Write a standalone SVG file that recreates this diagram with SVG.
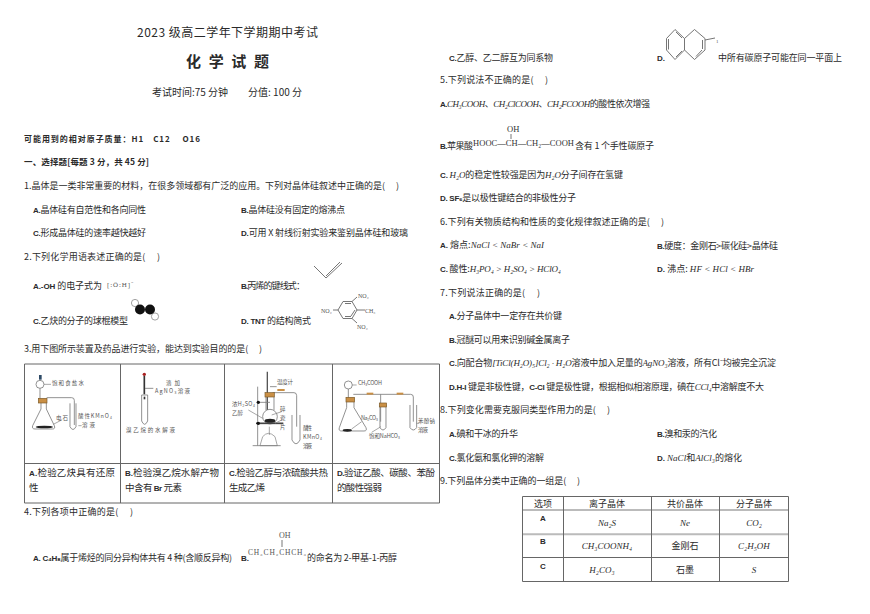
<svg xmlns="http://www.w3.org/2000/svg" width="870" height="614" viewBox="0 0 870 614">
<style>
text{font-family:"Noto Sans CJK SC","Liberation Sans",sans-serif;font-size:9px;fill:#2a2a2a}
.b{font-weight:bold}
.f{font-family:"Liberation Sans",sans-serif;font-weight:bold;font-size:8px}
.m{font-family:"Liberation Serif","Noto Sans CJK SC",serif;font-style:italic}
.s{font-family:"Liberation Serif","Noto Sans CJK SC",serif;fill:#555}
.l{font-size:5.5px;fill:#555}
.gl{fill:none;stroke:#7c7c7c;stroke-width:2.500}
.tb{stroke:#666;stroke-width:1;fill:none}
.tg{stroke:#bbb;stroke-width:2;fill:none}
.ln{stroke:#666;stroke-width:.9;fill:none}
.o{fill:#c98f45;stroke:#7a5a2a;stroke-width:2}
</style>
<rect width="870" height="614" fill="#fff"/>
<g id="header">
<text x="137" y="37" style="font-size:12px" textLength="181">2023 级高二学年下学期期中考试</text>
<text x="186" y="67" class="b" style="font-size:15px" textLength="83">化 学 试 题</text>
<text x="152" y="96" style="font-size:10px" textLength="150">考试时间:75 分钟　　分值: 100 分</text>
<text x="24" y="142" class="b" style="font-size:8px" textLength="176">可能用到的相对原子质量：H1　C12　 O16</text>
<text x="24" y="165" class="b" style="font-size:8.5px" textLength="125">一、选择题[每题 3 分，共 45 分]</text>
</g>
<g id="q1">
<text x="24" y="189" textLength="375">1.晶体是一类非常重要的材料，在很多领域都有广泛的应用。下列对晶体硅叙述中正确的是(　 )</text>
<text x="33" y="213" textLength="113"><tspan class="f">A.</tspan>晶体硅有自范性和各向同性</text>
<text x="241" y="213" textLength="104"><tspan class="f">B.</tspan>晶体硅没有固定的熔沸点</text>
<text x="33" y="236" textLength="113"><tspan class="f">C.</tspan>形成晶体硅的速率越快越好</text>
<text x="241" y="236" textLength="167"><tspan class="f">D.</tspan>可用 X 射线衍射实验来鉴别晶体硅和玻璃</text>
</g>
<g id="q2">
<text x="24" y="260" textLength="136">2.下列化学用语表述正确的是(　 )</text>
<text x="33" y="289" textLength="69"><tspan class="f">A.-OH</tspan> 的电子式为</text>
<text x="107" y="287" class="s" style="font-size:7px" textLength="26">[:Ö:H]⁻</text>
<text x="241" y="289" textLength="64"><tspan class="f">B.</tspan>丙烯的键线式：</text>
<path d="M314 266L326 278L342 263M326 276L340 262" class="ln"/>
<text x="33" y="324" textLength="95"><tspan class="f">C.</tspan>乙炔的分子的球棍模型</text>
<circle cx="135" cy="303" r="3.6" fill="#fff" stroke="#777" stroke-width=".7"/>
<circle cx="155" cy="316.500" r="3.6" fill="#fff" stroke="#777" stroke-width=".7"/>
<circle cx="140" cy="309.500" r="5" fill="#111"/>
<circle cx="150" cy="309.500" r="5" fill="#111"/>
<text x="241" y="324" textLength="70"><tspan class="f">D. TNT</tspan> 的结构简式</text>
<path d="M338 310L343 301.500L352 301.500L357 310L352 318.500L343 318.500ZM345 303.500L351 303.500M345 316.500L351 316.500M355 310L351 316M333 310H338M352 301.500L357 297M357 310H365M352 318.500L357 323" class="ln"/>
<text x="358" y="298" class="s" style="font-size:6px">NO₂</text>
<text x="321" y="313" class="s" style="font-size:6px">NO₂</text>
<text x="365" y="313" class="s" style="font-size:6px">CH₃</text>
<text x="357" y="329" class="s" style="font-size:6px">NO₂</text>
<text x="24" y="352" textLength="238">3.用下图所示装置及药品进行实验，能达到实验目的的是(　 )</text>
</g>
<g id="table-q3">
<path d="M24.500 364H439.500V503H24.500ZM24.500 463.500H439.500M120.500 364V503M224.500 364V503M332.500 364V503" class="tb"/>
<g id="apparatus-a" transform="translate(15 355) scale(.3333)">
<circle cx="75" cy="88" r="12" class="gl"/>
<rect x="72" y="60" width="8" height="14" fill="#2d4a66"/>
<path d="M75 100V140M78 140V162L53 212Q50 222 60 222H112Q122 222 118 212L94 162V140M95 128H170Q178 128 178 136V210M165 145V215Q174 232 183 215V145" class="gl"/>
<rect x="70" y="130" width="26" height="14" class="o"/>
<ellipse cx="88" cy="216" rx="26" ry="4" fill="#222"/>
<path d="M87 88H108M115 208L140 195M190 212H200" class="gl" style="stroke-width:2"/>
</g>
<g id="apparatus-b" transform="translate(15 355) scale(.3333)">
<path d="M388 62V118" stroke="#333" stroke-width="5" fill="none"/>
<circle cx="388" cy="58" r="5" fill="#a22"/>
<path d="M380 120V198Q389 218 398 198V120ZM390 100H415" class="gl"/>
<rect x="386" y="125" width="5" height="8" fill="#333"/>
</g>
<g id="apparatus-c" transform="translate(220 355) scale(.3333)">
<path d="M142 50V165" stroke="#555" stroke-width="4" fill="none"/>
<path d="M113 95V272M98 272H182M150 95H170M113 142H150" class="gl"/>
<circle cx="150" cy="185" r="22" class="gl"/>
<path d="M138 125V165M162 125V165M158 113H222Q230 113 230 122V215M216 180V255Q228 278 240 255V180" class="gl"/>
<rect x="135" y="113" width="28" height="13" class="o"/>
<rect x="172" y="102" width="22" height="6" fill="#c98f45"/>
<path d="M108 205H190" stroke="#444" stroke-width="5"/>
<ellipse cx="150" cy="197" rx="16" ry="6" fill="#222"/>
<path d="M120 272L128 245Q145 225 165 245L172 272ZM148 215V240" class="gl" style="stroke-width:2"/>
<circle cx="115" cy="142" r="5" fill="#111"/><circle cx="115" cy="205" r="5" fill="#111"/>
<path d="M155 180L185 170M165 205L185 195M85 165L128 190" class="gl" style="stroke-width:2"/>
</g>
<g id="apparatus-d" transform="translate(220 355) scale(.3333)">
<circle cx="385" cy="90" r="12" class="gl"/>
<path d="M385 102V135M380 140V158L358 218Q355 228 365 228H432Q442 228 438 218L402 158V140M400 118H572Q580 118 580 126V200M482 118V200M570 150V218Q580 232 590 218V150M480 150V218Q489 232 498 218V150" class="gl"/>
<rect x="378" y="127" width="26" height="14" class="o"/>
<rect x="478" y="144" width="22" height="12" class="o"/>
<rect x="440" y="113" width="20" height="6" fill="#c98f45"/>
<rect x="530" y="113" width="20" height="6" fill="#c98f45"/>
<ellipse cx="382" cy="226" rx="14" ry="4" fill="#222"/>
<path d="M397 90H410M395 222L425 200M483 215L455 232M590 205H598" class="gl" style="stroke-width:2"/>
</g>
<g id="apparatus-labels">
<text x="52" y="385" class="l" textLength="32">饱和食盐水</text>
<text x="56" y="420" class="l" textLength="12">电石</text>
<text x="78" y="418" class="l" textLength="34">酸性KMnO₄</text>
<text x="82" y="427" class="l" textLength="13">溶液</text>
<text x="166" y="385" class="l" textLength="14">滴加</text>
<text x="155" y="393" class="l" textLength="35">AgNO₃溶液</text>
<text x="126" y="432" class="l" textLength="49">溴乙烷的水解液</text>
<text x="277" y="384" class="l" textLength="16">温度计</text>
<text x="232" y="405.500" class="l" textLength="23">浓H₂SO₄</text>
<text x="232" y="414.500" class="l" textLength="11">乙醇</text>
<text x="280" y="411" class="l">碎</text>
<text x="280" y="420" class="l">瓷</text>
<text x="280" y="429" class="l">片</text>
<text x="303" y="430" class="l" textLength="9">酸性</text>
<text x="303" y="439" class="l" textLength="19">KMnO₄</text>
<text x="303" y="448" class="l" textLength="9">溶液</text>
<text x="358" y="385" class="l" textLength="24">CH₃COOH</text>
<text x="361" y="420" class="l" textLength="17">Na₂CO₃</text>
<text x="369" y="438" class="l" textLength="31">饱和NaHCO₃</text>
<text x="418" y="423" class="l" textLength="17">苯酚钠</text>
<text x="418" y="432" class="l" textLength="10">溶液</text>
</g>
</g>
<g id="table-q3-text">
<text x="29" y="476" style="font-size:9.500px" textLength="86"><tspan class="f">A.</tspan>检验乙炔具有还原</text>
<text x="29" y="491" style="font-size:9.500px">性</text>
<text x="125" y="476" style="font-size:9.500px" textLength="94"><tspan class="f">B.</tspan>检验溴乙烷水解产物</text>
<text x="125" y="491" style="font-size:9.500px" textLength="57">中含有 <tspan class="f">Br</tspan> 元素</text>
<text x="229" y="476" style="font-size:9.500px" textLength="99"><tspan class="f">C.</tspan>检验乙醇与浓硫酸共热</text>
<text x="229" y="491" style="font-size:9.500px" textLength="36">生成乙烯</text>
<text x="337" y="476" style="font-size:9.500px" textLength="98"><tspan class="f">D.</tspan>验证乙酸、碳酸、苯酚</text>
<text x="337" y="491" style="font-size:9.500px" textLength="45">的酸性强弱</text>
</g>
<g id="q4">
<text x="24" y="515" textLength="109">4.下列各项中正确的是(　 )</text>
<text x="33" y="561" textLength="199"><tspan class="f">A. C₄H₈</tspan>属于烯烃的同分异构体共有 4 种(含顺反异构)</text>
<text x="241" y="561" class="f">B.</text>
<text x="279" y="538" class="s" style="font-size:8px">OH</text>
<path d="M282 540V547" class="ln"/>
<text x="248" y="555" class="s" style="font-size:7.500px" textLength="58">CH₃CH₂CHCH₃</text>
<text x="307" y="561" textLength="90">的命名为 2-甲基-1-丙醇</text>
<text x="449" y="61" textLength="104"><tspan class="f">C.</tspan>乙醇、乙二醇互为同系物</text>
<text x="657" y="61" class="f">D.</text>
<path d="M675 29.500L666.500 38.500V50L675 59.500L684.500 50V38.500ZM684.500 38.500L694.500 29.500L705 38.500V50L694.500 59.500L684.500 50M668.500 39V49.500M676 32L682 38M676 57L682 51M702.500 40V49M696 56.500L702 50M705 40L715 38" class="ln"/>
<text x="716" y="43" class="s" style="font-size:5px">1</text>
<text x="718" y="61" textLength="124">中所有碳原子可能在同一平面上</text>
</g>
<g id="q5">
<text x="440" y="83" textLength="108">5.下列说法不正确的是(　 )</text>
<text x="440" y="107" textLength="210"><tspan class="f">A.</tspan><tspan class="m">CH₃COOH</tspan>、<tspan class="m">CH₂ClCOOH</tspan>、<tspan class="m">CH₂FCOOH</tspan>的酸性依次增强</text>
<text x="440" y="149" textLength="33"><tspan class="f">B.</tspan>苹果酸</text>
<text x="507" y="132" class="s" style="font-size:8.500px;fill:#333">OH</text>
<path d="M511 134V139" class="ln"/>
<text x="473" y="146" class="s" style="font-size:8.500px;fill:#333" textLength="101">HOOC—CH—CH₂—COOH</text>
<text x="575" y="149" textLength="79">含有 1 个手性碳原子</text>
<text x="440" y="178" textLength="183"><tspan class="f">C.</tspan> <tspan class="m">H₂O</tspan>的稳定性较强是因为<tspan class="m">H₂O</tspan>分子间存在氢键</text>
<text x="440" y="201" textLength="136"><tspan class="f">D. SF₆</tspan>是以极性键结合的非极性分子</text>
</g>
<g id="q6">
<text x="440" y="225" textLength="224">6.下列有关物质结构和性质的变化规律叙述正确的是(　 )</text>
<text x="440" y="248" textLength="104"><tspan class="f">A.</tspan> 熔点:<tspan class="m">NaCl &lt; NaBr &lt; NaI</tspan></text>
<text x="657" y="249" textLength="121"><tspan class="f">B.</tspan>硬度：金刚石&gt;碳化硅&gt;晶体硅</text>
<text x="440" y="272" textLength="121"><tspan class="f">C.</tspan> 酸性:<tspan class="m">H₃PO₄ &gt; H₂SO₄ &gt; HClO₄</tspan></text>
<text x="657" y="272" textLength="97"><tspan class="f">D.</tspan> 沸点: <tspan class="m">HF &lt; HCl &lt; HBr</tspan></text>
</g>
<g id="q7">
<text x="440" y="296" textLength="100">7.下列说法正确的是(　 )</text>
<text x="449" y="319" textLength="113"><tspan class="f">A.</tspan>分子晶体中一定存在共价键</text>
<text x="449" y="343" textLength="121"><tspan class="f">B.</tspan>冠醚可以用来识别碱金属离子</text>
<text x="449" y="366" textLength="327"><tspan class="f">C.</tspan>向配合物<tspan class="m">[TiCl(H₂O)₅]Cl₂ · H₂O</tspan>溶液中加入足量的<tspan class="m">AgNO₃</tspan>溶液，所有Cl⁻均被完全沉淀</text>
<text x="449" y="390" textLength="315"><tspan class="f">D.H-I</tspan> 键是非极性键，<tspan class="f">C-Cl</tspan> 键是极性键，根据相似相溶原理，碘在<tspan class="m">CCl₄</tspan>中溶解度不大</text>
</g>
<g id="q8">
<text x="440" y="413" textLength="170">8.下列变化需要克服同类型作用力的是(　 )</text>
<text x="449" y="437" textLength="69"><tspan class="f">A.</tspan>碘和干冰的升华</text>
<text x="657" y="437" textLength="60"><tspan class="f">B.</tspan>溴和汞的汽化</text>
<text x="449" y="461" textLength="95"><tspan class="f">C.</tspan>氯化氨和氯化钾的溶解</text>
<text x="657" y="461" textLength="85"><tspan class="f">D.</tspan> <tspan class="m">NaCl</tspan>和<tspan class="m">AlCl₃</tspan>的熔化</text>
</g>
<g id="q9">
<text x="440" y="484" textLength="140">9.下列晶体分类中正确的一组是(　 )</text>
<path d="M522.500 510H788M522.500 534.300H788" class="tg"/>
<path d="M522.500 496.500H788.500V581.500H522.500ZM522.500 557.500H788.500M563.500 496.500V581.500M651.500 496.500V581.500M719.500 496.500V581.500" class="tb"/>
<g text-anchor="middle">
<text x="543" y="507">选项</text><text x="607" y="507">离子晶体</text><text x="685" y="507">共价晶体</text><text x="754" y="507">分子晶体</text>
<text x="543" y="521" class="f">A</text><text x="543" y="544" class="f">B</text><text x="543" y="569" class="f">C</text>
<text x="607" y="526" class="m">Na₂S</text><text x="685" y="526" class="m">Ne</text><text x="754" y="526" class="m">CO₂</text>
<text x="607" y="549" class="m">CH₃COONH₄</text><text x="685" y="549">金刚石</text><text x="754" y="549" class="m">C₂H₅OH</text>
<text x="602" y="573" class="m">H₂CO₃</text><text x="685" y="573">石墨</text><text x="754" y="573" class="m">S</text>
</g>
</g>
</svg>
